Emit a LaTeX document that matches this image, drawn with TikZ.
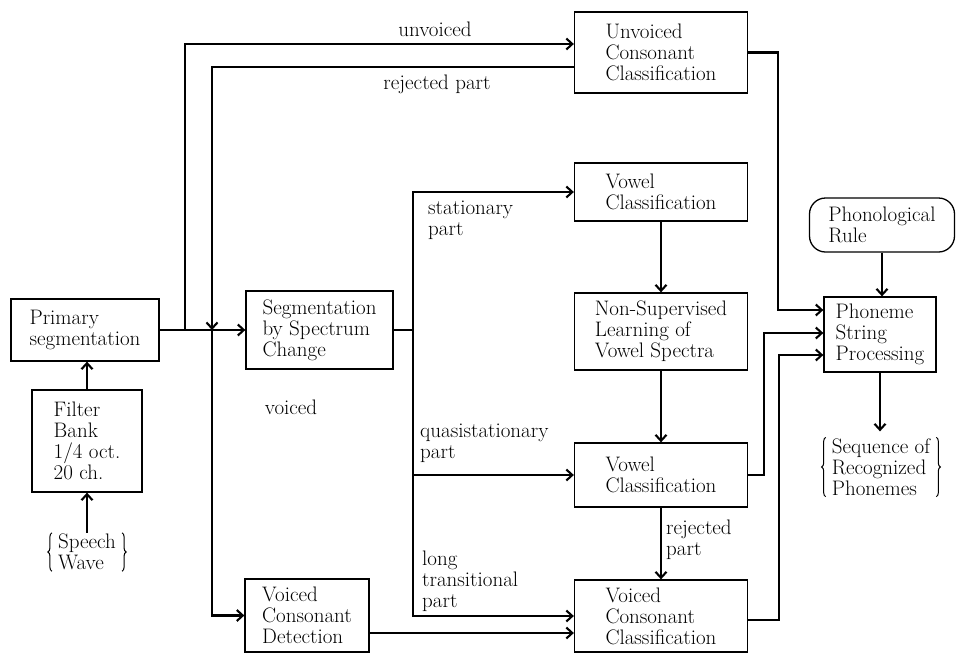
\documentclass[tikz,border=0pt]{standalone}
\usetikzlibrary{arrows.meta,decorations.pathreplacing}
\begin{document}
\begin{tikzpicture}[x=1pt,y=-1pt,
  font=\fontsize{21}{21}\selectfont,
  box/.style={draw, line width=1.3pt, align=left, inner sep=0pt},
  lbl/.style={align=left, inner sep=0pt},
  brtext/.style={align=left, inner xsep=6pt, inner ysep=1pt},
  brc/.style={draw, line width=1pt, decorate, decoration={brace, amplitude=4pt}},
  conn/.style={line width=2.1pt},
  arr/.style={conn, -{Straight Barb[length=6pt,width=11pt]}}]
\useasboundingbox (0,0) rectangle (956,654);

% boxes
\node[box, minimum width=148, minimum height=62] (prim) at (85,330) {Primary\\segmentation};
\node[box, minimum width=110, minimum height=102] (filt) at (87,441) {Filter\\Bank\\1/4 oct.\\20 ch.};
\node[brtext] (speech) at (87,552) {Speech\\Wave};
\node[box, minimum width=147, minimum height=78] (seg) at (319.5,330) {Segmentation\\by Spectrum\\Change};
\node[box, minimum width=173, minimum height=81] (unv) at (661,52.5) {Unvoiced\\Consonant\\Classification};
\node[box, minimum width=173, minimum height=58] (vow1) at (661,192) {Vowel\\Classification};
\node[box, minimum width=173, minimum height=77] (nsl) at (661,331.5) {Non-Supervised\\Learning of\\Vowel Spectra};
\node[box, minimum width=173, minimum height=64] (vow2) at (661,475) {Vowel\\Classification};
\node[box, minimum width=173, minimum height=72] (vcc) at (661,616) {Voiced\\Consonant\\Classification};
\node[box, minimum width=124, minimum height=73] (vcd) at (307,615.5) {Voiced\\Consonant\\Detection};
\node[box, rounded corners=16pt, minimum width=145, minimum height=54] (phr) at (882,225) {Phonological\\Rule};
\node[box, minimum width=112, minimum height=75] (pho) at (880,334.5) {Phoneme\\String\\Processing};
\node[brtext] (seq) at (881,467) {Sequence of\\Recognized\\Phonemes};

% braces
\draw[brc] (speech.south west) -- (speech.north west);
\draw[brc] (speech.north east) -- (speech.south east);
\draw[brc] (seq.south west) -- (seq.north west);
\draw[brc] (seq.north east) -- (seq.south east);

% labels
\node[lbl] (lunv) at (435,29) {unvoiced};
\node[lbl] (lrej) at (437,84) {rejected part};
\node[lbl] (lvoiced) at (291,407) {voiced};
\node[lbl, anchor=west] (lstat) at (428,220) {stationary\\part};
\node[lbl, anchor=west] (lquasi) at (420,443) {quasistationary\\part};
\node[lbl, anchor=west] (llong) at (422,581) {long\\transitional\\part};
\node[lbl, anchor=west] (lrej2) at (666,540) {rejected\\part};

% junctions
\coordinate (j1) at (185,330);
\coordinate (j2) at (212,330);
\coordinate (j3) at (413,330);
\coordinate (vcdo) at ([yshift=-17.5pt]vcd.east);

% connectors
\draw[arr] (filt.south |- speech.north) -- (filt.south);
\draw[arr] (filt.north) -- (filt.north |- prim.south);
\draw[arr] (prim.east) -- (seg.west);
\draw[arr] (j1) |- ([yshift=8.5pt]unv.west);
\draw[arr] ([yshift=-14.5pt]unv.west) -| (j2);
\draw[arr] (j2) |- (vcd.west);
\draw[conn] (seg.east) -- (j3);
\draw[arr] (j3) |- (vow1.west);
\draw[arr] (j3) |- (vow2.west);
\draw[arr] (j3) |- (vcc.west);
\draw[arr] (vcdo) -- (vcdo -| vcc.west);
\draw[arr] (vow1.south) -- (nsl.north);
\draw[arr] (nsl.south) -- (vow2.north);
\draw[arr] (vow2.south) -- (vcc.north);
\draw[arr] (unv.east) -- ++(30,0) |- ([yshift=24.5pt]pho.west);
\draw[arr] (vow2.east) -- ++(16,0) |- ([yshift=1.5pt]pho.west);
\draw[arr] ([yshift=-4pt]vcc.east) -- ++(31,0) |- ([yshift=-20.5pt]pho.west);
\draw[arr] (phr.south) -- (phr.south |- pho.north);
\draw[arr] (pho.south) -- ([yshift=6pt]pho.south |- seq.north);
\end{tikzpicture}
\end{document}
